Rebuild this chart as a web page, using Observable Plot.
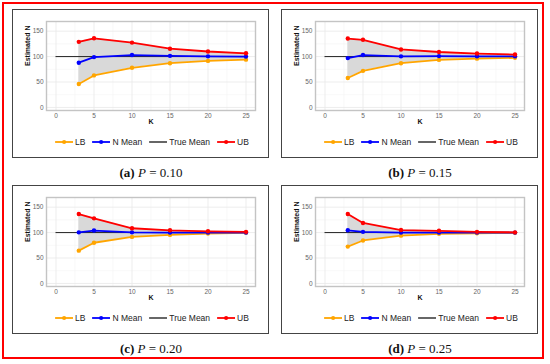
<!DOCTYPE html>
<html>
<head>
<meta charset="utf-8">
<script src="https://cdn.jsdelivr.net/npm/d3@7"></script>
<script src="https://cdn.jsdelivr.net/npm/@observablehq/plot@0.6"></script>
<style>
  html, body { margin: 0; padding: 0; background: #fff; }
  #root { position: relative; width: 550px; height: 364px; overflow: hidden; font-family: "Liberation Sans", Arial, sans-serif; }
  .frame { position: absolute; left: 2px; top: 2px; width: 542px; height: 357px; border: 2px solid #ff0000; box-sizing: border-box; }
  .pbox { position: absolute; width: 257px; height: 149px; border: 1px solid #444; box-sizing: border-box; }
  .plot { position: absolute; }
  .legend { position: absolute; display: flex; align-items: center; white-space: nowrap; font-size: 8.5px; color: #222; transform: translate(-50%, -50%); }
  .legend .item { display: flex; align-items: center; margin-right: 7px; }
  .legend .item:last-child { margin-right: 0; }
  .legend svg { margin-right: 2px; }
  .caption { position: absolute; transform: translate(-50%, -50%); font-family: "Liberation Serif", "DejaVu Serif", serif; font-size: 13px; color: #111; white-space: nowrap; }
  .caption b { font-weight: bold; }
  .caption i { font-style: italic; }
</style>
</head>
<body>
<div id="root"><div class="frame"></div></div>
<script>
// ---- data ----
const K = [3, 5, 10, 15, 20, 25];
const trueMean = 100;

const lb10 = [46, 63, 78, 87, 91.5, 94];
const mean10 = [88, 99, 103, 101.5, 100.5, 100];
const ub10 = [129, 136, 127.5, 115.5, 110, 106.5];

const lb15 = [58, 72, 87, 93.5, 96, 97.5];
const mean15 = [97, 103, 100.5, 101, 100.5, 100.5];
const ub15 = [135.5, 133, 114, 109, 106, 104];

const lb20 = [64.5, 80, 91.5, 95.5, 98, 99.5];
const mean20 = [100.5, 104, 100.5, 100, 100, 100];
const ub20 = [136.5, 128, 108.5, 104.5, 102.5, 101.5];

const lb25 = [72.5, 84.5, 94, 97.5, 98.5, 99.5];
const mean25 = [104.5, 101.5, 100, 100, 100, 100];
const ub25 = [136.5, 119, 105, 103.5, 101.5, 100.5];

const captions = [
  {tag: "(a)", p: "0.10"},
  {tag: "(b)", p: "0.15"},
  {tag: "(c)", p: "0.20"},
  {tag: "(d)", p: "0.25"}
];
const seriesNames = ["LB", "N Mean", "True Mean", "UB"];
const seriesColors = ["#FFA500", "#0000FF", "#000000", "#FF0000"];

const panelsData = [
  [lb10, mean10, ub10],
  [lb15, mean15, ub15],
  [lb20, mean20, ub20],
  [lb25, mean25, ub25]
];
const positions = [[12, 9], [281, 9], [12, 185], [281, 185]];

const root = document.getElementById("root");

function makePanel(idx) {
  const [lb, mn, ub] = panelsData[idx];
  const [px, py] = positions[idx];
  const rows = K.map((k, i) => ({k, lb: lb[i], mean: mn[i], ub: ub[i]}));

  const box = document.createElement("div");
  box.className = "pbox";
  box.style.left = px + "px";
  box.style.top = py + "px";
  root.appendChild(box);

  const W = 257, H = 120;
  const chart = Plot.plot({
    width: W, height: H,
    marginLeft: 34, marginRight: 14, marginTop: 12, marginBottom: 19,
    style: {fontFamily: "Liberation Sans, Arial, sans-serif", fontSize: "6.5px", background: "transparent", overflow: "visible"},
    x: {domain: [-1.25, 26.25], ticks: [0, 5, 10, 15, 20, 25]},
    y: {domain: [-6, 169], ticks: [0, 50, 100, 150]},
    marks: [
      Plot.gridX([2.5, 7.5, 12.5, 17.5, 22.5], {stroke: "#f3f3f3", strokeOpacity: 1, strokeWidth: 0.6}),
      Plot.gridY([25, 75, 125], {stroke: "#f3f3f3", strokeOpacity: 1, strokeWidth: 0.6}),
      Plot.gridX([0, 5, 10, 15, 20, 25], {stroke: "#e8e8e8", strokeOpacity: 1, strokeWidth: 0.8}),
      Plot.gridY([0, 50, 100, 150], {stroke: "#e8e8e8", strokeOpacity: 1, strokeWidth: 0.8}),
      Plot.frame({stroke: "#c4c4c4", strokeWidth: 1.4}),
      Plot.axisX({ticks: [0, 5, 10, 15, 20, 25], tickSize: 0, tickPadding: 3, label: null, fill: "#666"}),
      Plot.axisY({ticks: [0, 50, 100, 150], tickSize: 0, tickPadding: 3, label: null, fill: "#666"}),
      Plot.text(["K"], {frameAnchor: "bottom", dy: 13, fontWeight: "bold", fontSize: 7, fill: "#111"}),
      Plot.text(["Estimated N"], {frameAnchor: "left", dx: -19, rotate: -90, fontWeight: "bold", fontSize: 7, fill: "#111"}),
      Plot.areaY(rows, {x: "k", y1: "lb", y2: "ub", fill: "#d9d9d9", curve: "linear"}),
      Plot.ruleY([trueMean], {x1: 0, x2: 25, stroke: "#222", strokeWidth: 1}),
      Plot.line(rows, {x: "k", y: "lb", stroke: seriesColors[0], strokeWidth: 1.8}),
      Plot.dot(rows, {x: "k", y: "lb", fill: seriesColors[0], r: 2.2}),
      Plot.line(rows, {x: "k", y: "mean", stroke: seriesColors[1], strokeWidth: 1.8}),
      Plot.dot(rows, {x: "k", y: "mean", fill: seriesColors[1], r: 2.2}),
      Plot.line(rows, {x: "k", y: "ub", stroke: seriesColors[3], strokeWidth: 1.8}),
      Plot.dot(rows, {x: "k", y: "ub", fill: seriesColors[3], r: 2.2})
    ]
  });
  chart.classList.add("plot");
  chart.style.left = px + "px";
  chart.style.top = py + "px";
  root.appendChild(chart);

  // legend
  const leg = document.createElement("div");
  leg.className = "legend";
  leg.style.left = (px + 140) + "px";
  leg.style.top = (py + 133) + "px";
  seriesNames.forEach((name, i) => {
    const it = document.createElement("div");
    it.className = "item";
    const dot = name === "True Mean" ? "" : `<circle cx="9" cy="4" r="2.1" fill="${seriesColors[i]}"/>`;
    const sw = name === "True Mean" ? 1.2 : 1.8;
    it.innerHTML = `<svg width="18" height="8"><line x1="0" x2="18" y1="4" y2="4" stroke="${seriesColors[i]}" stroke-width="${sw}"/>${dot}</svg><span>${name}</span>`;
    leg.appendChild(it);
  });
  root.appendChild(leg);

  // caption
  const cap = document.createElement("div");
  cap.className = "caption";
  cap.style.left = (px + 139) + "px";
  cap.style.top = (py + 164) + "px";
  cap.innerHTML = `<b>${captions[idx].tag}</b> <i>P</i> = ${captions[idx].p}`;
  root.appendChild(cap);
}

[0, 1, 2, 3].forEach(makePanel);
</script>
</body>
</html>
